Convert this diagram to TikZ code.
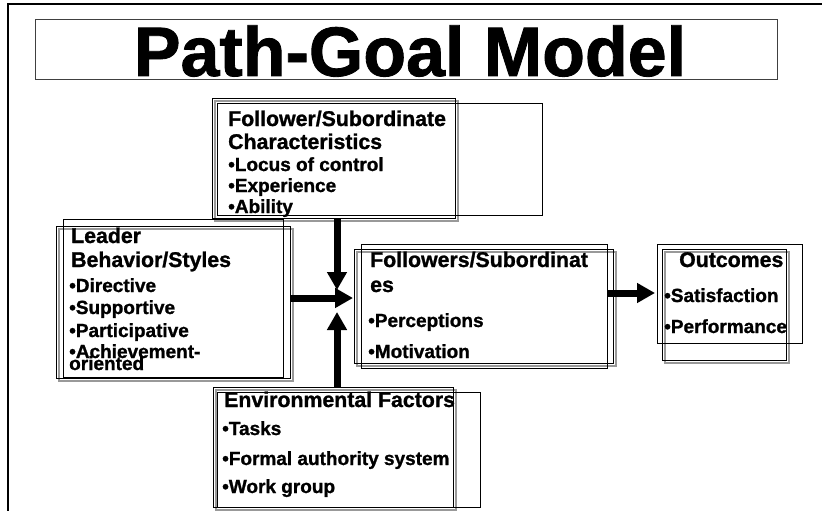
\documentclass[tikz,border=0pt]{standalone}
\usepackage{fontspec}
\setmainfont[BoldFont={Liberation Sans Bold},BoldFeatures={FakeBold=1.2}]{Liberation Sans}
\usetikzlibrary{arrows.meta}
\newcommand\mybox[6]{\node[#1, minimum width=#4pt, minimum height=#5pt] (#6) at (#2,#3) {};}
\begin{document}
\begin{tikzpicture}[x=1pt,y=-1pt,
  blk/.style={draw=black, line width=1pt, inner sep=0pt, outer sep=0pt, anchor=north west},
  shd/.style={draw=black!40, line width=1.2pt, inner sep=0pt, outer sep=0pt, anchor=north west},
  hd/.style={font=\fontsize{21.3}{24}\selectfont\bfseries, anchor=base west, inner sep=0pt},
  itm/.style={font=\fontsize{19}{22}\selectfont\bfseries, anchor=base west, inner sep=0pt},
  fat/.style={line width=7pt, -{Triangle[length=18pt,width=19pt]}},
]
\useasboundingbox (0,0) rectangle (822,511);
% page frame
\draw[line width=1.5pt] (8,511) -- (8,4) -- (822,4);
% title
\mybox{blk,draw=black!75}{35}{20}{742}{60}{titlebox}
\node[font=\fontsize{70}{70}\selectfont\bfseries, anchor=base, inner sep=0pt] (title) at (410,76) {Path-Goal Model};

% ---- shadows
\mybox{shd}{215}{101}{243}{120}{folS}
\mybox{shd}{59}{229}{234}{152}{leadS}
\mybox{shd}{357}{252}{259}{114}{fsS}
\mybox{shd}{665}{252}{124}{111}{outS}
\mybox{shd}{216}{390}{240}{120}{envS}

% ---- Follower characteristics
\mybox{blk}{212}{98}{243}{120}{folA}
\mybox{blk}{217}{103}{325}{112}{folB}
% ---- Leader
\mybox{blk}{63}{219}{220}{158}{leadA}
\mybox{blk}{56}{226}{234}{152}{leadB}
% ---- Followers/Subordinates
\mybox{blk}{361}{244}{246}{124}{fsA}
\mybox{blk}{354}{249}{259}{114}{fsB}
% ---- Outcomes
\mybox{blk}{657}{244}{145}{99}{outA}
\mybox{blk}{662}{249}{124}{111}{outB}
% ---- Environment
\mybox{blk}{213}{387}{240}{120}{envA}
\mybox{blk}{217}{392}{263}{115}{envB}

% ---- texts
\node[hd] (f1) at (228,126) {Follower/Subordinate};
\node[hd] (f2) at (228,149) {Characteristics};
\node[itm] (f3) at (228,171) {•Locus of control};
\node[itm] (f4) at (228,192) {•Experience};
\node[itm] (f5) at (228,213) {•Ability};

\node[hd] (l1) at (71,243) {Leader};
\node[hd] (l2) at (71,267) {Behavior/Styles};
\node[itm] (l3) at (69,292) {•Directive};
\node[itm] (l4) at (69,314) {•Supportive};
\node[itm] (l5) at (69,337) {•Participative};
\node[itm] (l6) at (69,358) {•Achievement-};
\node[itm] (l7) at (69,370) {oriented};

\node[hd] (s1) at (370,267) {Followers/Subordinat};
\node[hd] (s2) at (370,292) {es};
\node[itm] (s3) at (368,327) {•Perceptions};
\node[itm] (s4) at (368,358) {•Motivation};

\node[hd] (o1) at (679,267) {Outcomes};
\node[itm] (o2) at (664,302) {•Satisfaction};
\node[itm] (o3) at (664,333) {•Performance};

\node[hd] (e1) at (224,407) {Environmental Factors};
\node[itm] (e2) at (222,435) {•Tasks};
\node[itm] (e3) at (222,465) {•Formal authority system};
\node[itm] (e4) at (222,493) {•Work group};

% ---- arrows
\coordinate (hub) at (337,298);
\draw[fat] (hub |- folA.south) -- ([yshift=8pt]hub);
\draw[fat] (hub |- envA.north) -- ([yshift=-14pt]hub);
\draw[fat] (leadB.east |- hub) -- ([xshift=16pt]hub);
\coordinate (oa) at ([yshift=13pt]fsA.east);
\draw[fat] (oa) -- ([xshift=-2pt]oa -| outA.west);
\end{tikzpicture}
\end{document}
